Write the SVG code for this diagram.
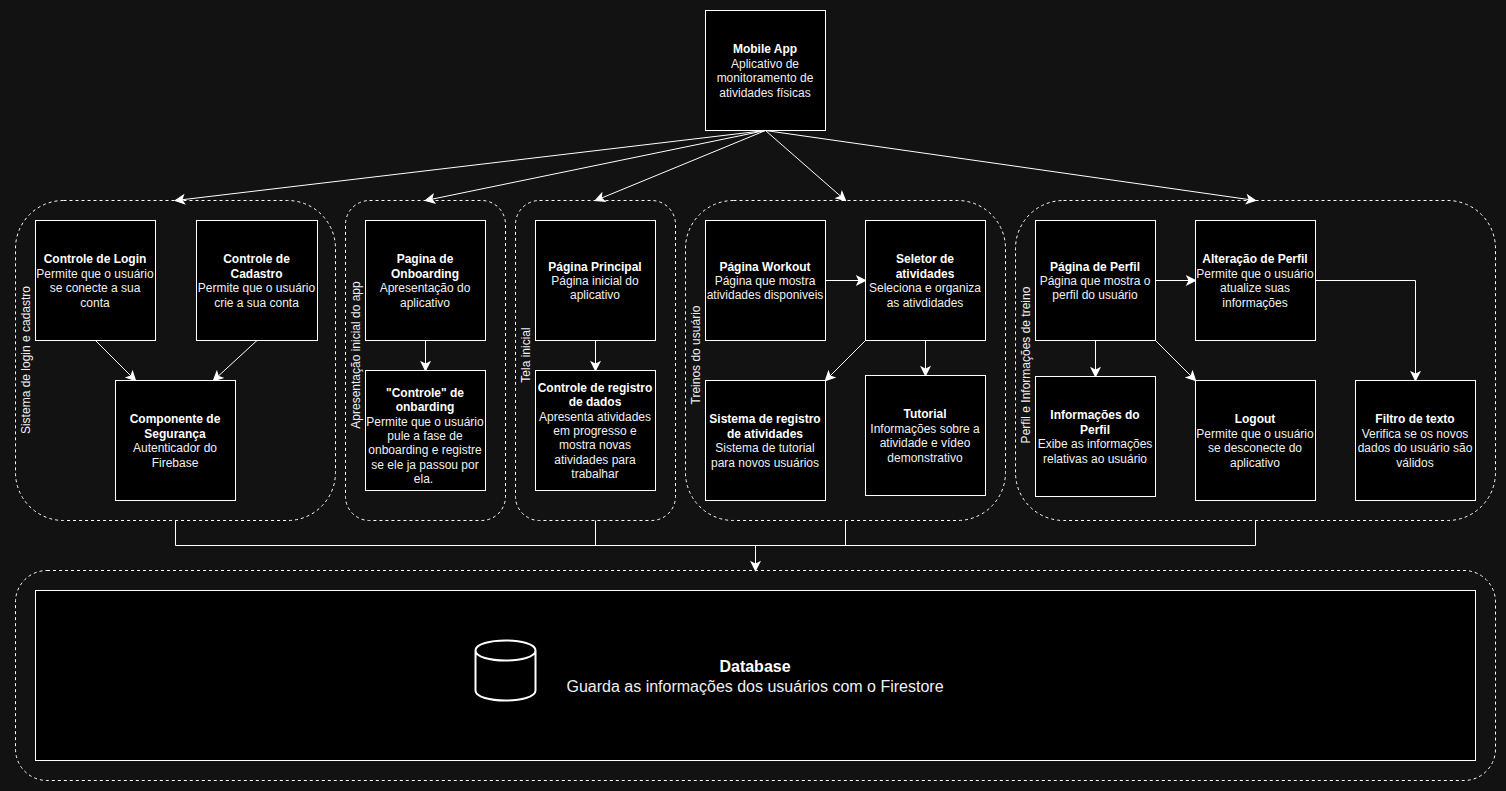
<svg xmlns="http://www.w3.org/2000/svg" width="1506" height="791" viewBox="0 0 1506 791">
<style>
text{font-family:"Liberation Sans",Arial,sans-serif;font-size:12px;fill:#f0f0f0;text-anchor:middle}
.b{font-weight:bold;fill:#fff}
.box{fill:#000;stroke:#fff;stroke-width:1}
.grp{fill:none;stroke:#fff;stroke-width:1;stroke-dasharray:3 3}
.lane{font-size:12px}
.big{font-size:16px}
.c{fill:none;stroke:#fff;stroke-width:1;marker-end:url(#a)}
.l{fill:none;stroke:#fff;stroke-width:1}
</style>
<defs>
<marker id="a" markerUnits="userSpaceOnUse" markerWidth="12" markerHeight="12" viewBox="-9 -5 10 10" refX="0" refY="0" orient="auto">
<path d="M0,0 L-7,3.5 L-5.25,0 L-7,-3.5 Z" fill="#fff" stroke="#fff" stroke-width="1"/>
</marker>
</defs>
<rect width="1506" height="791" fill="#121212"/>

<g id="containers">
<g id="grp-login"><rect class="grp" x="15.5" y="200.5" width="320" height="320" rx="48" ry="48"/><text class="lane" transform="translate(30 360) rotate(-90)">Sistema de login e cadastro</text></g>
<g id="grp-onboarding"><rect class="grp" x="345.5" y="200.5" width="160" height="320" rx="24" ry="24"/><text class="lane" transform="translate(360 355) rotate(-90)">Apresentação inicial do app</text></g>
<g id="grp-inicial"><rect class="grp" x="515.5" y="200.5" width="160" height="320" rx="24" ry="24"/><text class="lane" transform="translate(530 355) rotate(-90)">Tela inicial</text></g>
<g id="grp-treinos"><rect class="grp" x="685.5" y="200.5" width="320" height="320" rx="48" ry="48"/><text class="lane" transform="translate(700 355) rotate(-90)">Treinos do usuário</text></g>
<g id="grp-perfil"><rect class="grp" x="1015.5" y="200.5" width="480" height="320" rx="48" ry="48"/><text class="lane" transform="translate(1030 365) rotate(-90)">Perfil e Informações de treino</text></g>
<g id="grp-db"><rect class="grp" x="15.5" y="570.5" width="1480" height="210" rx="31.5" ry="31.5"/></g>
</g>

<g id="connectors">
<path class="c" d="M765.5,130.5 L175.5,200.5"/>
<path class="c" d="M765.5,130.5 L425.5,200.5"/>
<path class="c" d="M765.5,130.5 L595.5,200.5"/>
<path class="c" d="M765.5,130.5 L845.5,200.5"/>
<path class="c" d="M765.5,130.5 L1255.5,200.5"/>
<path class="c" d="M95.5,340.5 L135.5,380.5"/>
<path class="c" d="M257,340.5 L213.5,380.5"/>
<path class="c" d="M425.5,340.5 L425.5,370.5"/>
<path class="c" d="M595.5,340.5 L595.5,370.5"/>
<path class="c" d="M825.5,280.5 L865.5,280.5"/>
<path class="c" d="M865.5,340.5 L825.5,380.5"/>
<path class="c" d="M925.5,340.5 L925.5,375.5"/>
<path class="c" d="M1155.5,280.5 L1195.5,280.5"/>
<path class="c" d="M1095.5,340.5 L1095.5,376.5"/>
<path class="c" d="M1155.5,340.5 L1195.5,380.5"/>
<path class="c" d="M1315.5,280.5 L1415.5,280.5 L1415.5,380.5"/>
<path class="l" d="M175.5,520.5 L175.5,545.5 L1255.5,545.5 L1255.5,520.5"/>
<path class="l" d="M595.5,520.5 L595.5,545.5"/>
<path class="l" d="M845.5,520.5 L845.5,545.5"/>
<path class="c" d="M755.5,545.5 L755.5,570.5"/>
</g>

<g id="mobile-app"><rect class="box" x="705.5" y="10.5" width="120" height="120"/>
<text x="765" y="53" class="b">Mobile App</text><text x="765" y="68">Aplicativo de</text><text x="765" y="82">monitoramento de</text><text x="765" y="97">atividades físicas</text></g>

<g id="controle-login"><rect class="box" x="35.5" y="220.5" width="120" height="120"/>
<text x="95" y="263" class="b">Controle de Login</text><text x="95" y="278">Permite que o usuário</text><text x="95" y="292">se conecte a sua</text><text x="95" y="307">conta</text></g>

<g id="controle-cadastro"><rect class="box" x="196.5" y="220.5" width="121" height="120"/>
<text x="256.5" y="263" class="b">Controle de</text><text x="256.5" y="278" class="b">Cadastro</text><text x="256.5" y="292">Permite que o usuário</text><text x="256.5" y="307">crie a sua conta</text></g>

<g id="componente-seguranca"><rect class="box" x="115.5" y="380.5" width="120" height="120"/>
<text x="175" y="423" class="b">Componente de</text><text x="175" y="438" class="b">Segurança</text><text x="175" y="452">Autenticador do</text><text x="175" y="467">Firebase</text></g>

<g id="pagina-onboarding"><rect class="box" x="365.5" y="220.5" width="120" height="120"/>
<text x="425" y="263" class="b">Pagina de</text><text x="425" y="278" class="b">Onboarding</text><text x="425" y="292">Apresentação do</text><text x="425" y="307">aplicativo</text></g>

<g id="controle-onboarding"><rect class="box" x="365.5" y="370.5" width="120" height="120"/>
<text x="425" y="397" class="b">"Controle" de</text><text x="425" y="411" class="b">onbarding</text><text x="425" y="426">Permite que o usuário</text><text x="425" y="440">pule a fase de</text><text x="425" y="454">onboarding e registre</text><text x="425" y="469">se ele ja passou por</text><text x="423.5" y="483">ela.</text></g>

<g id="pagina-principal"><rect class="box" x="535.5" y="220.5" width="120" height="120"/>
<text x="595" y="271" class="b">Página Principal</text><text x="595" y="285">Página inicial do</text><text x="595" y="299">aplicativo</text></g>

<g id="controle-registro"><rect class="box" x="535.5" y="370.5" width="120" height="120"/>
<text x="595" y="392" class="b">Controle de registro</text><text x="595" y="406" class="b">de dados</text><text x="595" y="421">Apresenta atividades</text><text x="595" y="435">em progresso e</text><text x="595" y="449">mostra novas</text><text x="595" y="464">atividades para</text><text x="595" y="478">trabalhar</text></g>

<g id="pagina-workout"><rect class="box" x="705.5" y="220.5" width="120" height="120"/>
<text x="765" y="271" class="b">Página Workout</text><text x="765" y="285">Página que mostra</text><text x="765" y="299">atividades disponiveis</text></g>

<g id="seletor-atividades"><rect class="box" x="865.5" y="220.5" width="120" height="120"/>
<text x="925" y="263" class="b">Seletor de</text><text x="925" y="278" class="b">atividades</text><text x="925" y="292">Seleciona e organiza</text><text x="925" y="307">as ativdidades</text></g>

<g id="sistema-registro"><rect class="box" x="705.5" y="380.5" width="120" height="120"/>
<text x="765" y="423" class="b">Sistema de registro</text><text x="765" y="438" class="b">de atividades</text><text x="765" y="452">Sistema de tutorial</text><text x="765" y="467">para novos usuários</text></g>

<g id="tutorial"><rect class="box" x="865.5" y="375.5" width="120" height="120"/>
<text x="925" y="418" class="b">Tutorial</text><text x="925" y="433">Informações sobre a</text><text x="925" y="447">atividade e vídeo</text><text x="925" y="462">demonstrativo</text></g>

<g id="pagina-perfil"><rect class="box" x="1035.5" y="220.5" width="120" height="120"/>
<text x="1095" y="271" class="b">Página de Perfil</text><text x="1095" y="285">Página que mostra o</text><text x="1095" y="299">perfil do usuário</text></g>

<g id="alteracao-perfil"><rect class="box" x="1195.5" y="220.5" width="120" height="120"/>
<text x="1255" y="263" class="b">Alteração de Perfil</text><text x="1255" y="278">Permite que o usuário</text><text x="1255" y="292">atualize suas</text><text x="1255" y="307">informações</text></g>

<g id="informacoes-perfil"><rect class="box" x="1035.5" y="376.5" width="120" height="120"/>
<text x="1095" y="419" class="b">Informações do</text><text x="1095" y="434" class="b">Perfil</text><text x="1095" y="448">Exibe as informações</text><text x="1095" y="463">relativas ao usuário</text></g>

<g id="logout"><rect class="box" x="1195.5" y="380.5" width="120" height="120"/>
<text x="1255" y="423" class="b">Logout</text><text x="1255" y="438">Permite que o usuário</text><text x="1255" y="452">se desconecte do</text><text x="1255" y="467">aplicativo</text></g>

<g id="filtro-texto"><rect class="box" x="1355.5" y="380.5" width="120" height="120"/>
<text x="1415" y="423" class="b">Filtro de texto</text><text x="1415" y="438">Verifica se os novos</text><text x="1415" y="452">dados do usuário são</text><text x="1415" y="467">válidos</text></g>

<g id="database"><rect class="box" x="35.5" y="590.5" width="1440" height="170"/>
<path d="M475.5,650.5 C475.5,637.2 535.5,637.2 535.5,650.5 L535.5,690.5 C535.5,703.8 475.5,703.8 475.5,690.5 Z M475.5,650.5 C475.5,663.8 535.5,663.8 535.5,650.5" fill="none" stroke="#fff" stroke-width="2"/>
<text x="755" y="672" class="b big">Database</text><text x="755" y="692" class="big">Guarda as informações dos usuários com o Firestore</text></g>
</svg>
